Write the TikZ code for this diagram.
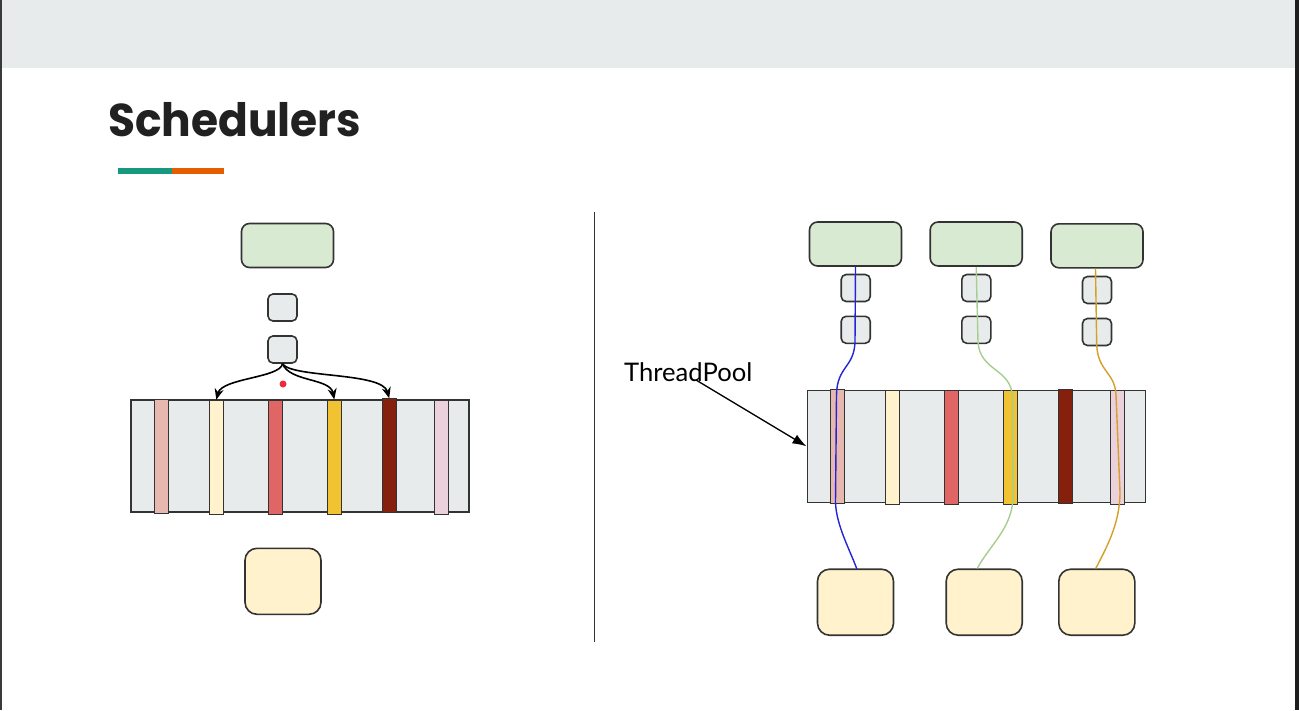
\documentclass[tikz,border=0pt]{standalone}
\usepackage{fontspec}
\setmainfont{Lato}
\newfontfamily\titlefont{Poppins}
\usetikzlibrary{arrows.meta,calc}
\definecolor{band}{HTML}{E8EBEC}
\definecolor{edgeL}{HTML}{3A3A3A}
\definecolor{edgeR}{HTML}{1E1E1E}
\definecolor{titlec}{HTML}{212121}
\definecolor{teal}{HTML}{17997F}
\definecolor{orng}{HTML}{E65C00}
\definecolor{bord}{HTML}{333333}
\definecolor{grayfill}{HTML}{E8EBEB}
\definecolor{greenfill}{HTML}{D9EAD3}
\definecolor{yelfill}{HTML}{FFF2CC}
\definecolor{cA}{HTML}{E6B8AF}
\definecolor{cB}{HTML}{FFF2CC}
\definecolor{cC}{HTML}{E06666}
\definecolor{cD}{HTML}{F1C232}
\definecolor{cE}{HTML}{85200C}
\definecolor{cF}{HTML}{EAD1DC}
\definecolor{dotc}{HTML}{F02A3E}
\definecolor{lblue}{HTML}{2424D8}
\definecolor{lgreen}{HTML}{A6CF8E}
\definecolor{lgold}{HTML}{D4A028}
\tikzset{
  boxbase/.style={draw=bord, line width=1.6pt, inner sep=0pt},
  greenbox/.style={boxbase, fill=greenfill, rounded corners=8pt, minimum width=92pt, minimum height=44pt},
  queuebox/.style={boxbase, fill=grayfill, rounded corners=5pt, minimum width=29pt, minimum height=27pt},
  yelbox/.style={boxbase, fill=yelfill, rounded corners=12pt, minimum width=76pt, minimum height=66pt},
  poolbox/.style={boxbase, line width=1.4pt, fill=grayfill, minimum width=338pt, minimum height=112pt},
  bar/.style={draw=bord, line width=1pt, inner sep=0pt, minimum width=14pt, minimum height=114pt, fill=#1},
  linkarrow/.style={line width=1.6pt, black, -{Stealth[length=11pt,width=9pt]}},
  thread/.style={line width=1.4pt, #1}
}
\begin{document}
\begin{tikzpicture}[x=1pt,y=-1pt]
\useasboundingbox (0,0) rectangle (1299,710);
\fill[white] (0,0) rectangle (1299,710);
\fill[band] (0,0) rectangle (1299,68);
\fill[edgeL] (0,0) rectangle (1.5,710);
\fill[edgeR] (1295,0) rectangle (1299,710);

% title
\node[anchor=base west, inner sep=0pt, text=titlec,
      font=\titlefont\bfseries\fontsize{46}{50}\selectfont] (title) at (108,136) {\scalebox{0.955}[1]{Schedulers}};
\fill[teal] (118,168) rectangle (172,174);
\fill[orng] (172,168) rectangle (224,174);

% ---------- left ----------
\node[greenbox] (gL) at (287.5,245.5) {};
\node[queuebox] (qL1) at (282.5,307.5) {};
\node[queuebox] (qL2) at (282.5,349.5) {};
\node[poolbox] (poolL) at (300,456) {};
\node[bar=cA] (bL1) at (161.3,456.3) {};
\node[bar=cB] (bL2) at (216.3,457.2) {};
\node[bar=cC] (bL3) at (275.2,457) {};
\node[bar=cD] (bL4) at (334.3,457) {};
\node[bar=cE] (bL5) at (389.2,455.7) {};
\node[bar=cF] (bL6) at (441.7,457.5) {};
\node[yelbox] (yL) at (283,581.3) {};

\draw[linkarrow] (qL2.south) .. controls (280,378) and (222,378) .. (bL2.north);
\draw[linkarrow] (qL2.south) .. controls (290,382) and (330,378) .. (bL4.north);
\draw[linkarrow] (qL2.south) .. controls (292,378) and (382,372) .. (bL5.north);
\fill[dotc] (283,384) circle (3.5pt);

% divider
\coordinate (dtop) at (594.5,212);
\coordinate (dbot) at (594.5,642);
\draw[line width=1.4pt, bord] (dtop) -- (dbot);

% ---------- right ----------
\node[greenbox] (g1) at (855.5,244) {};
\node[greenbox] (g2) at (976.2,244) {};
\node[greenbox] (g3) at (1097,245.8) {};
\node[queuebox] (q11) at (855.7,288) {};
\node[queuebox] (q12) at (855.7,329.8) {};
\node[queuebox] (q21) at (976.3,288) {};
\node[queuebox] (q22) at (976.3,329.8) {};
\node[queuebox] (q31) at (1097,290) {};
\node[queuebox] (q32) at (1097,332) {};
\node[poolbox] (poolR) at (976.2,446.3) {};
\node[bar=cA] (r1) at (837.5,446.7) {};
\node[bar=cB] (r2) at (892.3,447.7) {};
\node[bar=cC] (r3) at (951.2,447.7) {};
\node[bar=cD] (r4) at (1010.5,447.7) {};
\node[bar=cE] (r5) at (1065,446) {};
\node[bar=cF] (r6) at (1117.5,447.7) {};
\node[yelbox] (y1) at (855.5,602.2) {};
\node[yelbox] (y2) at (984.2,602.2) {};
\node[yelbox] (y3) at (1096.8,602.2) {};

\draw[thread=lblue] (g1.south) -- (855,342) .. controls (854,368) and (837,366) .. (836.5,395)
   -- (835.5,502) .. controls (836,525) and (850,550) .. ($(y1.north)+(1.5,1)$);
\draw[thread=lgreen] (g2.south) -- (978,342) .. controls (980,372) and (1012,368) .. (1012.5,398)
   -- (1013,498) .. controls (1012,528) and (990,545) .. ($(y2.north)+(-7,0)$);
\draw[thread=lgold] ($(g3.south)+(-1.5,0)$) -- (1096.7,345) .. controls (1098,372) and (1115,372) .. (1116,395)
   -- (1120,492) .. controls (1120,525) and (1105,550) .. ($(y3.north)+(-1,0)$);

% ThreadPool label
\node[anchor=base west, inner sep=0pt, font=\fontsize{25.6}{28}\selectfont] (tp) at (624,381) {ThreadPool};
\coordinate (tpa) at (696,380);
\draw[line width=1.3pt, -{Latex[length=14pt,width=10pt]}] (tpa) -- (poolR.west);
\end{tikzpicture}
\end{document}
